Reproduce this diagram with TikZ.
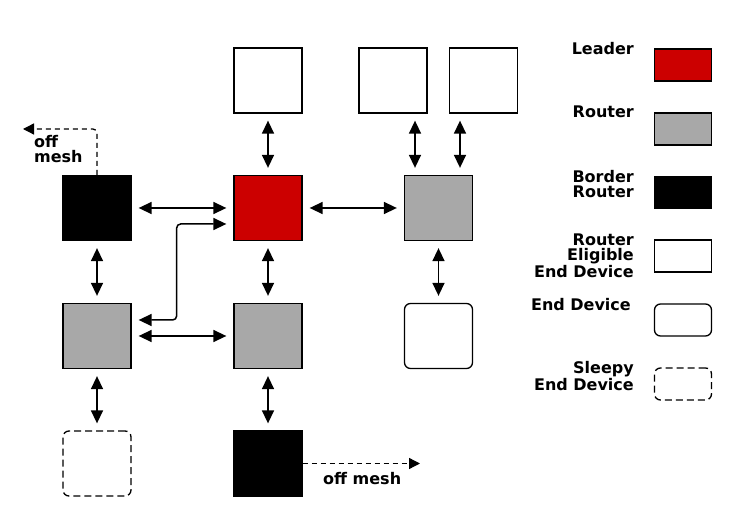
\documentclass[tikz,border=0pt]{standalone}
\usepackage{fontspec}
\setmainfont{DejaVu Sans}
\usetikzlibrary{arrows.meta}

\definecolor{leaderred}{HTML}{CC0000}
\definecolor{routergray}{HTML}{A8A8A8}

\begin{document}
\begin{tikzpicture}[x=1pt, y=-1pt,
    font=\bfseries\fontsize{16}{15}\selectfont,
    dev/.style={draw, line width=1.3pt, minimum width=68pt, minimum height=65pt, inner sep=0pt},
    leader/.style={dev, fill=leaderred},
    router/.style={dev, fill=routergray},
    border/.style={dev, fill=black},
    reed/.style={dev, fill=white},
    enddev/.style={dev, fill=white, rounded corners=6pt},
    sleepy/.style={dev, fill=white, rounded corners=6pt, dash pattern=on 7pt off 4pt},
    key/.style={draw, line width=1.3pt, minimum width=57pt, minimum height=32pt, inner sep=0pt},
    keylabel/.style={anchor=east, align=right, inner sep=0pt},
    link/.style={{Triangle[length=13pt,width=12pt]}-{Triangle[length=13pt,width=12pt]}, line width=1.5pt, shorten <=7pt, shorten >=7pt},
    offlink/.style={-{Triangle[length=11pt,width=11pt]}, line width=1.3pt, dash pattern=on 5pt off 4pt}]

    \useasboundingbox (0,0) rectangle (740,529);

    % mesh
    \node[reed] (reed1) at (268,80.5) {};
    \node[reed] (reed2) at (393,80.5) {};
    \node[reed] (reed3) at (483.5,80.5) {};
    \node[border] (br1) at (97,208) {};
    \node[leader] (ld) at (268,208) {};
    \node[router] (rt3) at (438.5,208) {};
    \node[router] (rt1) at (97,336) {};
    \node[router] (rt2) at (268,336) {};
    \node[enddev] (ed) at (438.5,336) {};
    \node[sleepy] (sed) at (97,463.5) {};
    \node[border] (br2) at (268,463.5) {};

    \draw[link] (reed1) -- (ld);
    \draw[link] ([xshift=22pt]reed2.south) -- ([xshift=22pt]reed2.south |- rt3.north);
    \draw[link] ([xshift=-23.5pt]reed3.south) -- ([xshift=-23.5pt]reed3.south |- rt3.north);
    \draw[link] (br1) -- (ld);
    \draw[link] (ld) -- (rt3);
    \draw[link] (br1) -- (rt1);
    \draw[link] (ld) -- (rt2);
    \draw[link] (rt3) -- (ed);
    \draw[link] (rt1) -- (rt2);
    \draw[link, rounded corners=4pt] ([yshift=16pt]rt1.east) -- ++(45,0) |- ([yshift=-16pt]ld.west);
    \draw[link] (rt1) -- (sed);
    \draw[link] (rt2) -- (br2);

    % off mesh
    \coordinate (offA) at (23,129);
    \draw[offlink, rounded corners=4pt] (br1.north) |- (offA);
    \node[anchor=north west, align=left, inner sep=0pt] (offAlbl) at (34,135) {off\\mesh};
    \coordinate (offB) at (420,463.5);
    \draw[offlink] (br2.east) -- (offB);
    \node[anchor=west, inner sep=0pt] (offBlbl) at (323,479) {off mesh};

    % legend
    \node[key, fill=leaderred] (kLeader) at (683,65) {};
    \node[key, fill=routergray] (kRouter) at (683,129) {};
    \node[key, fill=black] (kBorder) at (683,192.5) {};
    \node[key, fill=white] (kReed) at (683,256) {};
    \node[key, fill=white, rounded corners=6pt] (kEnd) at (683,320) {};
    \node[key, fill=white, rounded corners=6pt, dash pattern=on 7pt off 4pt] (kSleepy) at (683,384) {};

    \node[keylabel] (lLeader) at (634,48.5) {Leader};
    \node[keylabel] (lRouter) at (634,112) {Router};
    \node[keylabel] (lBorder) at (634,184) {Border\\Router};
    \node[keylabel] (lReed) at (634,255.5) {Router\\Eligible\\End Device};
    \node[keylabel] (lEnd) at (631,304.5) {End Device};
    \node[keylabel] (lSleepy) at (634,376) {Sleepy\\End Device};
\end{tikzpicture}
\end{document}
